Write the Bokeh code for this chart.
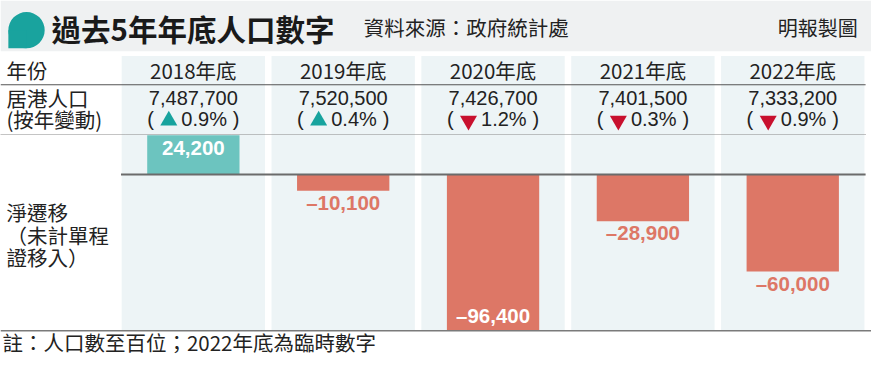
from bokeh.plotting import figure
from bokeh.models import Range1d
from bokeh.embed import file_html
from bokeh.resources import INLINE
from bokeh.core.properties import value

# ---------------- data ----------------
years = ["2018年底", "2019年底", "2020年底", "2021年底", "2022年底"]
population = [7487700, 7520500, 7426700, 7401500, 7333200]
change_pct = [0.9, 0.4, -1.2, -0.3, -0.9]
net_migration = [24200, -10100, -96400, -28900, -60000]

title_text = "過去5年年底人口數字"
source_text = "資料來源：政府統計處"
credit_text = "明報製圖"
header_label = "年份"
pop_label_lines = ["居港人口", "(按年變動)"]
mig_label_lines = ["淨遷移", "（未計單程", "證移入）"]
note_text = "註：人口數至百位；2022年底為臨時數字"

# ---------------- layout helpers (reference pixel layout -> data) ----------------
COL0 = 196.4      # centre of first column (px)
PITCH = 152.6     # distance between column centres (px)
ZERO_Y = 181.7    # zero line (px from top)
PX_PER = 0.00169  # px per person

def X(px):
    return (px - COL0) / PITCH

def Y(py):
    return (ZERO_Y - py) / PX_PER

def DX(px):
    return px / PITCH

def DY(px):
    return px / PX_PER

CJK = value("Noto Sans CJK TC")
LAT = value("Liberation Sans")
DARK = "#222222"
TEAL_BAR = "#6cc4bf"
RED_BAR = "#dd7766"
UP_COL = "#17a39e"
DOWN_COL = "#c8102e"

p = figure(width=871, height=357,
           x_range=Range1d(X(0), X(887)), y_range=Range1d(Y(373), Y(0)),
           output_backend="svg", toolbar_location=None, min_border=0,
           x_axis_location=None, y_axis_location=None, tools="")
p.grid.visible = False
p.outline_line_color = None
p.background_fill_color = "white"
p.border_fill_color = "white"

idx = list(range(len(years)))

# header band
p.quad(left=X(0), right=X(887), top=Y(0), bottom=Y(53), fill_color="#eff1f2", line_color=None)

# column backgrounds
p.quad(left=[i - DX(73) for i in idx], right=[i + DX(73) for i in idx],
       top=Y(58), bottom=Y(345), fill_color="#edf4f6", line_color=None)

# title bubble
bx, by = X(26.5), Y(31)
p.circle(x=[bx], y=[by], radius=DX(18.5), fill_color="#19a39e", line_color=None)
p.quad(left=bx - DX(18.5), right=bx, top=by, bottom=by - DY(19.0), fill_color="#19a39e", line_color=None)

p.text(x=[X(52)], y=[Y(29)], text=[title_text], text_font=CJK, text_font_style="bold",
       text_font_size="29.5px", text_color="#1a1a1a", text_baseline="middle", text_align="left")
p.text(x=[X(370)], y=[Y(28)], text=[source_text], text_font=CJK,
       text_font_size="20.5px", text_color=DARK, text_baseline="middle", text_align="left")
p.text(x=[X(873)], y=[Y(28)], text=[credit_text], text_font=CJK,
       text_font_size="20px", text_color=DARK, text_baseline="middle", text_align="right")

# rules
p.segment(x0=[X(0)], y0=[Y(88)], x1=[X(881)], y1=[Y(88)], line_color="#555555", line_width=1.2)
p.segment(x0=[X(0)], y0=[Y(140)], x1=[X(881)], y1=[Y(140)], line_color="#888888",
          line_width=1, line_dash="1 1")

# row labels
p.text(x=[X(6)], y=[Y(73)], text=[header_label], text_font=CJK, text_font_size="20.5px",
       text_color=DARK, text_baseline="middle")
p.text(x=[X(6)] * 2, y=[Y(102), Y(124)], text=pop_label_lines, text_font=CJK,
       text_font_size="20.5px", text_color=DARK, text_baseline="middle")
p.text(x=[X(6)] * 3, y=[Y(221), Y(244.5), Y(267.5)], text=mig_label_lines, text_font=CJK,
       text_font_size="20.5px", text_color=DARK, text_baseline="middle")

# year headers
p.text(x=idx, y=[Y(73)] * len(idx), text=years, text_font=CJK, text_font_size="20.5px",
       text_color=DARK, text_align="center", text_baseline="middle")

# population
p.text(x=idx, y=[Y(102)] * len(idx), text=[f"{v:,}" for v in population], text_font=LAT,
       text_font_size="20px", text_color=DARK, text_align="center", text_baseline="middle")

# yearly change
yr = Y(124)
p.text(x=[i - DX(47) for i in idx], y=[yr] * len(idx), text=["("] * len(idx), text_font=LAT,
       text_font_size="20px", text_color=DARK, text_align="left", text_baseline="middle")
p.text(x=[i + DX(47) for i in idx], y=[yr] * len(idx), text=[")"] * len(idx), text_font=LAT,
       text_font_size="20px", text_color=DARK, text_align="right", text_baseline="middle")
p.text(x=[i + DX(11) for i in idx], y=[yr] * len(idx), text=[f"{abs(c):.1f}%" for c in change_pct],
       text_font=LAT, text_font_size="20px", text_color=DARK, text_align="center",
       text_baseline="middle")
p.scatter(x=[i - DX(25) for i in idx], y=[Y(125.5)] * len(idx),
          marker=["triangle" if c > 0 else "inverted_triangle" for c in change_pct],
          size=17, fill_color=[UP_COL if c > 0 else DOWN_COL for c in change_pct], line_color=None)

# net migration bars
bar_colors = [TEAL_BAR if v > 0 else RED_BAR for v in net_migration]
p.vbar(x=idx, top=net_migration, bottom=0, width=DX(94), fill_color=bar_colors, line_color=None)

# bar labels
panel_bottom = Y(345)
lab_y, lab_c = [], []
for v in net_migration:
    if v > 0:
        lab_y.append(v - DY(13.2)); lab_c.append("white")
    elif v - DY(24) < panel_bottom:
        lab_y.append(v + DY(15)); lab_c.append("white")
    else:
        lab_y.append(v - DY(12.3)); lab_c.append(RED_BAR)
lab_t = [(f"{v:,}" if v > 0 else "–" + f"{abs(v):,}") for v in net_migration]
p.text(x=idx, y=lab_y, text=lab_t, text_font=LAT, text_font_style="bold", text_font_size="20.5px",
       text_color=lab_c, text_align="center", text_baseline="middle")

# zero line and bottom line
p.segment(x0=[X(122.7)], y0=[0], x1=[X(881)], y1=[0], line_color="#6b6b6b", line_width=2)
p.segment(x0=[X(0)], y0=[Y(345)], x1=[X(887)], y1=[Y(345)], line_color="#7a7a7a", line_width=1.5)

# footnote
p.text(x=[X(2)], y=[Y(357)], text=[note_text], text_font=CJK, text_font_size="20.5px",
       text_color=DARK, text_baseline="middle")

open("out.html", "w").write(file_html(p, INLINE))
